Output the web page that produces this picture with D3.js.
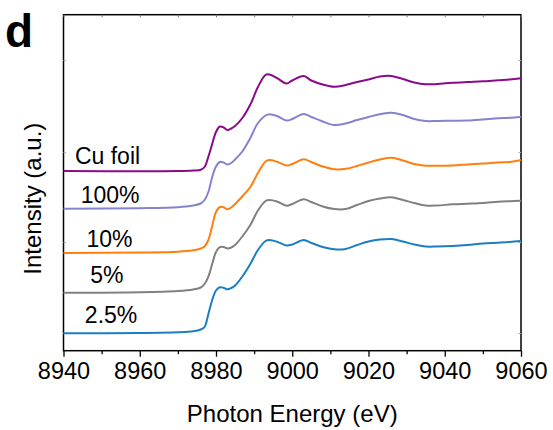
<!DOCTYPE html>
<html>
<head>
<meta charset="utf-8">
<script src="https://cdn.jsdelivr.net/npm/d3@7"></script>
<style>
  html, body { margin: 0; padding: 0; background: #fff; }
  svg { display: block; }
  text { font-family: "Liberation Sans", Arial, sans-serif; fill: #000; }
</style>
</head>
<body>
<svg id="chart" width="553" height="430"></svg>
<script>
// ---------- data ----------
const energies = [8940, 8960, 8970, 8974, 8976, 8977, 8978, 8979, 8980, 8981, 8982, 8983, 8984, 8985, 8987, 8989, 8991, 8993, 8994, 8996, 8998.5, 9000, 9003, 9005, 9008, 9011, 9014, 9017, 9020, 9023, 9026, 9029, 9032, 9035, 9038, 9042, 9046, 9050, 9054, 9057, 9060];

const seriesNames = ["Cu foil", "100%", "10%", "5%", "2.5%"];
const seriesColors = ["#8b0a8b", "#8484cc", "#ff7f0e", "#808080", "#1a7fc1"];

const cuFoil = [1.800, 1.797, 1.800, 1.805, 1.812, 1.840, 1.943, 2.070, 2.190, 2.245, 2.235, 2.210, 2.225, 2.250, 2.335, 2.465, 2.640, 2.762, 2.765, 2.730, 2.675, 2.705, 2.750, 2.705, 2.665, 2.643, 2.660, 2.690, 2.715, 2.745, 2.750, 2.720, 2.685, 2.667, 2.670, 2.682, 2.690, 2.697, 2.708, 2.715, 2.727];
const pct100 = [1.423, 1.428, 1.438, 1.455, 1.475, 1.510, 1.590, 1.740, 1.845, 1.890, 1.885, 1.865, 1.880, 1.915, 2.000, 2.130, 2.280, 2.355, 2.367, 2.350, 2.305, 2.320, 2.370, 2.340, 2.295, 2.260, 2.275, 2.310, 2.340, 2.367, 2.383, 2.360, 2.320, 2.300, 2.300, 2.303, 2.305, 2.315, 2.327, 2.332, 2.343];
const pct10 = [0.980, 0.985, 0.993, 1.007, 1.025, 1.045, 1.110, 1.250, 1.390, 1.440, 1.438, 1.417, 1.435, 1.470, 1.550, 1.640, 1.780, 1.895, 1.910, 1.893, 1.855, 1.870, 1.917, 1.890, 1.845, 1.817, 1.822, 1.850, 1.885, 1.915, 1.933, 1.905, 1.870, 1.853, 1.853, 1.855, 1.865, 1.875, 1.885, 1.890, 1.910];
const pct5 = [0.583, 0.588, 0.600, 0.615, 0.635, 0.670, 0.743, 0.870, 0.990, 1.038, 1.040, 1.025, 1.035, 1.060, 1.150, 1.260, 1.405, 1.500, 1.510, 1.495, 1.453, 1.470, 1.517, 1.490, 1.445, 1.420, 1.420, 1.460, 1.500, 1.525, 1.537, 1.510, 1.480, 1.455, 1.455, 1.467, 1.473, 1.480, 1.492, 1.498, 1.503];
const pct2_5 = [0.177, 0.180, 0.187, 0.197, 0.215, 0.240, 0.370, 0.510, 0.605, 0.637, 0.632, 0.617, 0.630, 0.655, 0.750, 0.870, 1.010, 1.100, 1.110, 1.093, 1.055, 1.065, 1.110, 1.080, 1.040, 1.017, 1.020, 1.060, 1.095, 1.115, 1.120, 1.095, 1.065, 1.045, 1.045, 1.050, 1.060, 1.075, 1.083, 1.090, 1.100];
const seriesValues = [cuFoil, pct100, pct10, pct5, pct2_5];

// label anchor positions in data units (energy, intensity)
const labelEnergy = [8943.0, 8944.5, 8946.0, 8947.0, 8945.6];
const labelIntensity = [1.87, 1.483, 1.043, 0.677, 0.277];

const xMajorTicks = [8940, 8960, 8980, 9000, 9020, 9040, 9060];
const xMinorTicks = [8950, 8970, 8990, 9010, 9030, 9050];
const yTicks = [0.18, 1.09, 1.99, 2.91];

// ---------- layout ----------
const svg = d3.select("#chart");
const plotL = 63.5, plotR = 521, plotT = 14.7, plotB = 350.7;

const x = d3.scaleLinear().domain([8940, 9060]).range([plotL, plotR]);
const y = d3.scaleLinear().domain([0, 3.36]).range([351, 15]);

// frame
svg.append("rect")
  .attr("x", plotL).attr("y", plotT)
  .attr("width", plotR - plotL).attr("height", plotB - plotT)
  .attr("fill", "none").attr("stroke", "#000").attr("stroke-width", 1.5);

// bottom axis major
const gx = svg.append("g").attr("transform", `translate(0,${plotB})`)
  .call(d3.axisBottom(x).tickValues(xMajorTicks).tickSize(6).tickPadding(6).tickFormat(d3.format("d")));
gx.select(".domain").remove();
gx.selectAll(".tick line").attr("stroke", "#000").attr("stroke-width", 1.3);
gx.selectAll(".tick text").style("font-size", "23.5px").style("font-family", "'Liberation Sans', Arial, sans-serif").attr("fill", "#000");

// bottom axis minor
const gxm = svg.append("g").attr("transform", `translate(0,${plotB})`)
  .call(d3.axisBottom(x).tickValues(xMinorTicks).tickSize(3.5).tickFormat(""));
gxm.select(".domain").remove();
gxm.selectAll(".tick line").attr("stroke", "#000").attr("stroke-width", 1.3);

// top axis small inward ticks
const gxt = svg.append("g").attr("transform", `translate(0,${plotT})`)
  .call(d3.axisBottom(x).tickValues(xMajorTicks.concat(xMinorTicks)).tickSize(2.5).tickFormat(""));
gxt.select(".domain").remove();
gxt.selectAll(".tick line").attr("stroke", "#777").attr("stroke-width", 1);

// faint inward y ticks
const gyl = svg.append("g").attr("transform", `translate(${plotL},0)`)
  .call(d3.axisRight(y).tickValues(yTicks).tickSize(2.5).tickFormat(""));
gyl.select(".domain").remove();
gyl.selectAll(".tick line").attr("stroke", "#aaa").attr("stroke-width", 1);
const gyr = svg.append("g").attr("transform", `translate(${plotR},0)`)
  .call(d3.axisLeft(y).tickValues(yTicks).tickSize(2.5).tickFormat(""));
gyr.select(".domain").remove();
gyr.selectAll(".tick line").attr("stroke", "#aaa").attr("stroke-width", 1);

// curves
const line = d3.line()
  .x(d => x(d[0]))
  .y(d => y(d[1]))
  .curve(d3.curveCatmullRom.alpha(0.5));

seriesValues.forEach((vals, i) => {
  const pts = energies.map((e, k) => [e, vals[k]]);
  svg.append("path")
    .attr("d", line(pts))
    .attr("fill", "none")
    .attr("stroke", seriesColors[i])
    .attr("stroke-width", 2)
    .attr("stroke-linejoin", "round");
});

// series labels
seriesNames.forEach((name, i) => {
  svg.append("text")
    .attr("x", x(labelEnergy[i]))
    .attr("y", y(labelIntensity[i]))
    .style("font-size", "23px")
    .text(name);
});

// axis titles
svg.append("text")
  .attr("x", (plotL + plotR) / 2)
  .attr("y", 421.5)
  .attr("text-anchor", "middle")
  .style("font-size", "24px")
  .text("Photon Energy (eV)");

svg.append("text")
  .attr("transform", `translate(41,${(plotT + plotB) / 2 + 16}) rotate(-90)`)
  .attr("text-anchor", "middle")
  .style("font-size", "24px")
  .text("Intensity (a.u.)");

// panel letter
svg.append("text")
  .attr("x", 5)
  .attr("y", 47)
  .style("font-size", "46px")
  .style("font-weight", "bold")
  .text("d");
</script>
</body>
</html>
